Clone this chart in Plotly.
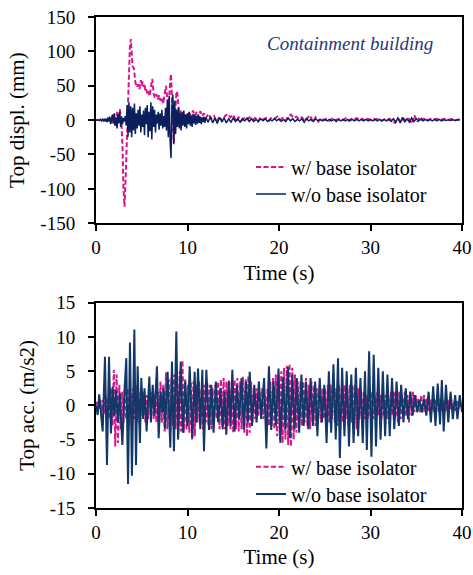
import numpy as np
import plotly.graph_objects as go

# ---------------- Data ----------------
time_ticks = [0, 10, 20, 30, 40]
disp_ticks = [-150, -100, -50, 0, 50, 100, 150]
disp_tick_labels = ["-150", "-100", "-50", "0", "50", "100", "150"]
acc_ticks = [-15, -10, -5, 0, 5, 10, 15]
acc_tick_labels = ["-15", "-10", "-5", "0", "5", "10", "15"]

# Top displacement, with base isolator (mm)
disp_w_t = [0, 0.5, 1.0, 1.3, 1.5, 1.7, 1.9, 2.1, 2.3, 2.45, 2.6, 2.75, 2.9, 3.0, 3.12, 3.25, 3.4, 3.55, 3.7, 3.8,
            3.9, 4.0, 4.15, 4.3, 4.45, 4.6, 4.75, 4.9, 5.0, 5.1, 5.2, 5.3, 5.4, 5.5, 5.6, 5.7, 5.85, 6.0, 6.15, 6.3,
            6.45, 6.6, 6.75, 6.9, 7.05, 7.2, 7.35, 7.5, 7.65, 7.8, 7.95, 8.1, 8.2, 8.3, 8.4, 8.5, 8.6, 8.7, 8.8, 8.9,
            9.0, 9.1, 9.25, 9.4, 9.55, 9.7, 9.85, 10.0, 10.2, 10.4, 10.6, 10.8, 11.0, 11.2, 11.4, 11.6, 11.8, 12.0,
            12.3, 12.6, 12.9, 13.2, 13.5, 13.8, 14.1, 14.4, 14.7, 15.0, 15.3, 15.6, 15.9, 16.2, 16.5, 16.8, 17.1,
            17.4, 17.7, 18.0, 18.3, 18.6, 18.9, 19.2, 19.5, 19.8, 20.1, 20.4, 20.7, 21.0, 21.3, 21.6, 21.9, 22.2,
            22.5, 22.8, 23.1, 23.4, 23.7, 24.0, 24.3, 24.6, 24.9, 25.2, 25.5, 25.8, 26.1, 26.4, 26.7, 27.0, 27.3,
            27.6, 27.9, 28.2, 28.5, 28.8, 29.1, 29.4, 29.7, 30.0, 30.3, 30.6, 30.9, 31.2, 31.5, 31.8, 32.1, 32.4,
            32.7, 33.0, 33.3, 33.6, 33.9, 34.2, 34.5, 34.8, 35.1, 35.4, 35.7, 36.0, 36.3, 36.6, 36.9, 37.2, 37.5,
            37.8, 38.1, 38.4, 38.7, 39.0, 39.3, 39.6, 40.0]
disp_w = [0, 0, 1, -2, 3, -5, 8, -8, 12, -5, 16, 5, -40, -100, -126, -80, -10, 60, 105, 118,
          100, 78, 75, 55, 48, 52, 45, 58, 50, 56, 48, 53, 42, 45, 38, 42, 35, 45, 60, 38,
          32, 38, 30, 36, 28, 33, 24, 38, 50, 30, 22, 55, 67, 30, -10, -33, 0, 35, 42, 38,
          20, 8, 15, 2, 10, 0, 8, 3, 12, 5, 14, 6, 12, 4, 13, 6, 10, 3,
          9, 2, 6, -3, 5, -2, 6, 9, 4, 8, -2, 4, -1, 3, 1, 4, 0,
          3, -2, 4, 1, 3, -1, 4, 2, 5, 0, 3, -1, 5, 8, 3, 5, 1,
          4, -1, 3, 7, -3, 4, -2, 3, 0, 2, -1, 2, 0, 1, 2, 0, 3,
          -1, 2, 1, 3, 0, 2, -1, 2, 0, 2, 1, 2, -1, 1, 0, 2, -2,
          -4, 3, -3, 2, 0, 2, -5, 7, -3, 5, 1, 3, 0, 2, 1, 2, 0,
          1, 2, 0, 1, 2, 0, 1, 1]

# Top displacement, without base isolator (mm): 0-12 s every 0.1 s, then 12-40 s every 0.25 s
disp_wo_early = [0, 0, 0, 0.5, -0.5, 1, -1, 1, -1, 1.5,
                 -2, 2, -3, 4, -2, 5, -6, 3, 8, -5,
                 10, -8, 4, -12, 9, -4, 12, -10, 5, -6,
                 3, -2, 6, -8, 22, -24, 26, -18, 20, -25,
                 18, -15, 24, -20, 10, -12, 15, -8, 20, -18,
                 8, -10, 14, -22, 18, -6, 22, -25, 12, -16,
                 26, -28, 20, -10, 15, -18, 8, -5, 12, -14,
                 10, -8, 15, -12, 6, -10, 18, -15, 30, -25,
                 35, -30, -55, 20, 37, -35, 28, -20, 15, -10,
                 18, -12, 10, -15, 12, -8, 14, -10, 8, -12,
                 10, -6, 12, -8, 6, -10, 9, -5, 8, -7,
                 6, -5, 8, -4, 5, -6, 4, -3, 5, -4]
disp_wo_late = [4, -3, 5, -4, 3, -5, 4, -2, 3, -4, 2, -3,
                3, -2, 2, -3, 2, -1, 3, -2, 2, -2, 1, -2, 2, -1, 2, -2, 1, -1, 2, -1,
                2, -2, 1, -2, 3, -1, 2, -2, 1, -1, 2, -3, 2, -1, 1, -2, 2, -1, 1, -1,
                1, -1, 1, -1, 1, -2, 1, -1, 1, -1, 1, -1, 1, -1, 1, -1, 1, -1, 1, -1,
                1, -1, 1, -1, 1, -1, 1, -1, 1, -2, 2, -3, 3, -4, 4, -3, 2, -3, 3, -2,
                2, -1, 1, -1, 1, -1, 1, -1, 1, -1, 1, -1, 0.5, -0.5, 0.5, -0.5, 0.5, -0.5, 0.5, 0]

# Top acceleration, with base isolator (m/s2), every 0.15 s
acc_w = [0, 0.5, -0.5, 1, -1, 0.8, -1.2, 1.5, -1, 1.2,
         -2, 2.5, -3, 5.2, -6, 4.5, -5.5, 3, -3.5, 2,
         -2.5, 3, -2, 2.5, -3, 2, -1.5, 2.5, -2, 3,
         -2.5, 2, -3, 2.5, -1.5, 2, -2.5, 1.5, -2, 2.5,
         -1.5, 2, -2, 1.5, -2.5, 2, -3, 3.5, -2.5, 3,
         -3.8, 4.8, -3.5, 3.8, -4.2, 4.0, -3.0, 4.5, -3.5, 4.0,
         -4.2, 5.0, -3.8, 6.6, -4.0, 4.0, -3.5, 3.0, -4.0, 3.5,
         -5, 3.5, -4.5, 3, -2.5, 3.5, -3, 2.5, -3.5, 3,
         -2.5, 3.5, -3, 3, -3.5, 2.5, -2.5, 3, -2, 3.5,
         -3.5, 3.8, -3.0, 4.0, -3.5, 3.5, -3.0, 3.8, -3.5, 3.5,
         -4.0, 3.8, -3.5, 4.0, -3.8, 3.5, -3.5, 4.2, -4.0, 3.8,
         -4.5, 4.3, -4.0, 3.5, -2.5, 2.5, -2, 2.5, -1.5, 2,
         -1.5, 2.5, -2, 1.5, -2, 2.5, -3, 3.5, -3, 4,
         -3.5, 4.5, -4.5, 4.5, -5, 5, -5.5, 5.5, -5, 5.8,
         -5.8, 6.1, -6, 5.5, -5, 4.5, -4, 3.5, -3.5, 3.5,
         -3, 3.5, -2.5, 4, -3, 3, -3.5, 3.5, -2.5, 3,
         -3, 2.5, -2, 3, -2.5, 2.5, -2, 2.5, -2.5, 3,
         -2.5, 3, -2, 3.5, -2.5, 2.5, -3, 3, -2, 2.5,
         -2.5, 3, -2, 2.5, -3, 3, -2.5, 2.9, -4.2, 3,
         -3.5, 2.5, -2, 2, -1.5, 2, -2, 1.5, -2, 2,
         -1.5, 2, -2, 1.5, -1.5, 2, -1.5, 1.5, -2, 1.5,
         -1.5, 1.5, -2, 1.5, -1.5, 2, -1.5, 2, -2, 1.5,
         -2.5, 2, -2, 1.5, -1.5, 2, -1.5, 1.5, -2.5, 2,
         -1.5, 2, -1, 1.5, -1, 1, -1, 1.5, -1, 1.5,
         -1, 1, -0.8, 1, -1, 0.8, -1, 1, -0.8, 0.8,
         -1, 1, -0.8, 0.8, -1, 1, -0.8, 0.8, -0.5, 0.8,
         -0.8, 0.5, -0.8, 0.8, -0.5, 0.5, -0.3]

# Top acceleration, without base isolator (m/s2): times of peaks and values
acc_wo_t = [0, 0.18, 0.35, 0.55, 0.73, 0.98, 1.2, 1.42, 1.63, 1.82, 2.0, 2.2, 2.4, 2.6, 2.88, 3.14, 3.31, 3.5,
            3.71, 3.93, 4.19, 4.37, 4.55, 4.8, 4.95, 5.15, 5.3, 5.53, 5.83, 6.0, 6.2, 6.4, 6.66, 6.85, 7.05,
            7.25, 7.4, 7.54, 7.83, 8.12, 8.3, 8.52, 8.78, 8.97, 9.26, 9.5, 9.75, 10.0, 10.24, 10.53, 10.78,
            10.95, 11.15, 11.4, 11.62, 11.8, 12.06, 12.35, 12.6, 12.85, 13.1, 13.35, 13.6, 13.85, 14.05, 14.24,
            14.5, 14.7, 14.9, 15.15, 15.4, 15.65, 15.9, 16.15, 16.4, 16.6, 16.8, 17.05, 17.3, 17.55, 17.8,
            18.05, 18.37, 18.62, 18.9, 19.15, 19.4, 19.65, 19.95, 20.15, 20.45, 20.7, 20.98, 21.2, 21.45,
            21.7, 21.95, 22.2, 22.45, 22.7, 22.95, 23.2, 23.45, 23.7, 23.95, 24.2, 24.45, 24.7, 24.95, 25.2,
            25.45, 25.7, 25.95, 26.2, 26.45, 26.65, 26.9, 27.15, 27.4, 27.65, 27.9, 28.15, 28.4, 28.65, 28.9,
            29.15, 29.4, 29.6, 29.85, 30.1, 30.35, 30.6, 30.85, 31.1, 31.35, 31.6, 31.85, 32.1, 32.35, 32.6,
            32.85, 33.1, 33.35, 33.6, 33.85, 34.1, 34.35, 34.6, 34.85, 35.1, 35.35, 35.6, 35.85, 36.1, 36.35,
            36.6, 36.85, 37.1, 37.35, 37.6, 37.8, 38.0, 38.25, 38.5, 38.75, 39.0, 39.25, 39.5, 39.75, 40.0]
acc_wo = [0, -1.4, 1.6, -1.0, -3.8, 7.1, -8.7, 7.1, -4.1, 2.7, -1.5, 2.2, -2.5, 1.8, -5.8, 2.7, 6.9, -11.5,
          9.2, -10.3, 11.1, -8.7, 5.7, -5.5, 4.0, -2.0, 2.5, -3.8, 4.2, -2.5, 3.0, -1.5, 5.7, -4.8, 2.0,
          -1.0, 2.5, -3.4, 4.9, -6.2, 6.4, -6.7, 10.8, -5.0, 6.4, -4.0, 3.5, -3.0, 5.7, -4.8, 4.9,
          -2.5, 5.4, -3.5, 5.2, -6.7, 5.2, -3.6, 3.0, -4.0, 3.5, -2.5, 2.5, -3.5, 2.0, -4.3,
          3.5, -3.0, 5.2, -3.8, 3.0, -2.0, 4.0, -3.5, 3.5, -2.5, 4.9, -3.0, 3.0, -2.5, 3.5,
          -2.0, 4.0, -6.3, 5.7, -3.6, 3.5, -3.0, 5.4, -5.5, 4.1, -3.5, 5.6, -4.8, 4.5,
          -3.5, 4.0, -4.0, 4.5, -3.0, 3.5, -3.5, 4.0, -3.0, 3.5, -4.5, 4.0, -2.5, 3.0, -5.5,
          5.0, -4.0, 6.0, -5.0, 6.9, -7.7, 5.5, -4.5, 5.0, -6.0, 4.5, -5.5, 5.5, -4.5, 4.0,
          -5.5, 5.0, -6.5, 7.9, -7.5, 7.4, -6.0, 5.5, -5.0, 5.0, -4.5, 4.5, -4.5, 4.0, -3.5,
          3.5, -3.0, 3.0, -2.5, 2.5, -2.0, 2.0, -1.5, 1.5, -1.0, 0.8, -1.0, 1.0, -1.5, 2.0,
          -2.5, 2.8, -3.0, 3.2, -2.8, 3.7, -3.8, 3.0, -2.5, 2.0, -2.0, 1.5, -2.0, 1.5, -1.0]

# ---------------- Derived time axes ----------------
disp_wo_t = list(np.round(np.arange(len(disp_wo_early)) * 0.1, 3)) + \
            list(np.round(12.0 + np.arange(len(disp_wo_late)) * 0.25, 3))
disp_wo = disp_wo_early + disp_wo_late
acc_w_t = list(np.round(np.arange(len(acc_w)) * 0.15, 3))

MAGENTA = "#D9148E"
NAVY_TOP = "#0B1F5C"
NAVY_BOT = "#12386A"
FONT = "Liberation Serif, Times New Roman, serif"

fig = go.Figure()
fig.add_trace(go.Scatter(x=disp_w_t, y=disp_w, mode="lines", name="w/ base isolator",
                         line=dict(color=MAGENTA, width=2, dash="5px,2.5px"),
                         xaxis="x", yaxis="y", legend="legend"))
fig.add_trace(go.Scatter(x=disp_wo_t, y=disp_wo, mode="lines", name="w/o base isolator",
                         line=dict(color=NAVY_TOP, width=1.5),
                         xaxis="x", yaxis="y", legend="legend2"))
fig.add_trace(go.Scatter(x=acc_w_t, y=acc_w, mode="lines", name="w/ base isolator",
                         line=dict(color=MAGENTA, width=2, dash="5px,2.5px"),
                         xaxis="x2", yaxis="y2", legend="legend3"))
fig.add_trace(go.Scatter(x=acc_wo_t, y=acc_wo, mode="lines", name="w/o base isolator",
                         line=dict(color=NAVY_BOT, width=2.0),
                         xaxis="x2", yaxis="y2", legend="legend4"))

axis_common = dict(showline=True, mirror=True, linecolor="black", linewidth=2,
                   showgrid=False, zeroline=False, ticks="outside", ticklen=6,
                   tickwidth=1.5, tickcolor="black", automargin=False,
                   tickfont=dict(family=FONT, size=19, color="black"))

xcommon = dict(axis_common, range=[0, 40], tickvals=time_ticks,
               title=dict(text="Time (s)", font=dict(family=FONT, size=21, color="black"), standoff=8))

ycommon = dict(axis_common, ticklabelstandoff=9)

legend_common = dict(xref="paper", yref="paper", xanchor="left", yanchor="middle",
                     bgcolor="rgba(0,0,0,0)", borderwidth=0,
                     font=dict(family=FONT, size=20, color="black"))

fig.update_layout(
    width=473, height=575,
    margin=dict(l=96, r=11, t=17, b=67),
    paper_bgcolor="white", plot_bgcolor="white",
    showlegend=True,
    xaxis=dict(xcommon, domain=[0, 1], anchor="y"),
    yaxis=dict(ycommon, domain=[0.580, 1.0], anchor="x", range=[-150, 150],
               tickvals=disp_ticks, ticktext=disp_tick_labels,
               title=dict(text="Top displ. (mm)", font=dict(family=FONT, size=21, color="black"), standoff=10)),
    xaxis2=dict(xcommon, domain=[0, 1], anchor="y2"),
    yaxis2=dict(ycommon, domain=[0, 0.418], anchor="x2", range=[-15, 15],
                tickvals=acc_ticks, ticktext=acc_tick_labels,
                title=dict(text="Top acc. (m/s2)", font=dict(family=FONT, size=21, color="black"), standoff=10)),
    legend=dict(legend_common, x=0.4235, y=0.6945),
    legend2=dict(legend_common, x=0.4235, y=0.6395),
    legend3=dict(legend_common, x=0.4235, y=0.0841),
    legend4=dict(legend_common, x=0.4235, y=0.0285),
    annotations=[dict(text="<i>Containment building</i>", xref="paper", yref="paper",
                      x=0.926, y=0.947, xanchor="right", yanchor="middle", showarrow=False,
                      font=dict(family=FONT, size=19, color="#1F3A7A"))],
)

fig.write_html("out.html", config={"displayModeBar": False},
               post_script="document.body.style.margin='0';")
